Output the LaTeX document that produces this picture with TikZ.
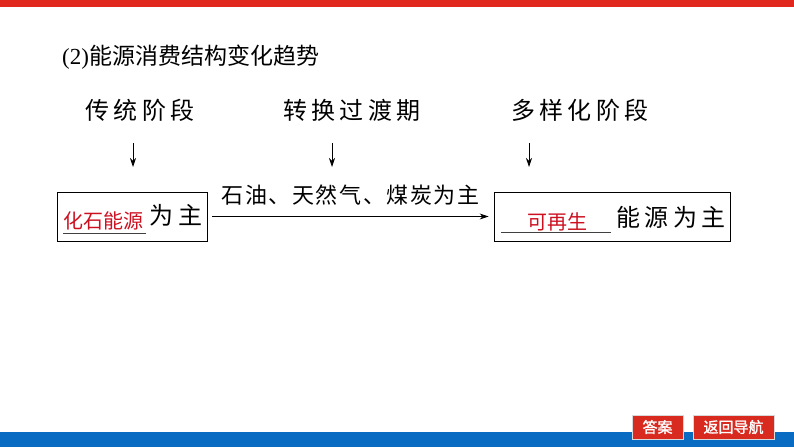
\documentclass[tikz,border=0pt]{standalone}
\usepackage{fontspec}
\setmainfont{Liberation Serif}
\newfontfamily\cjk{Noto Sans CJK SC}
\newfontfamily\cjkwide[LetterSpace=17]{Noto Sans CJK SC}
\newfontfamily\cjklabel[LetterSpace=7]{Noto Sans CJK SC}
\newfontfamily\cjkbtn[FakeBold=1.5]{Noto Sans CJK SC}
\usetikzlibrary{arrows.meta,positioning}
\definecolor{BarRed}{HTML}{E0281E}
\definecolor{BarBlue}{HTML}{0A6BC2}
\definecolor{KeyRed}{HTML}{CC1020}
\definecolor{BtnRed}{HTML}{D92A1F}

\begin{document}
\begin{tikzpicture}[
    x=1pt, y=-1pt,
    stage/.style={
      inner sep=0pt,
      font=\fontsize{24}{28}\selectfont\cjkwide
    },
    box/.style={
      draw=black,
      line width=0.9pt,
      minimum width=#1,
      minimum height=49pt,
      inner sep=0pt
    },
    key/.style={
      inner sep=0pt,
      text=KeyRed,
      font=\fontsize{20}{23}\selectfont\cjk
    },
    btn/.style={
      fill=BtnRed,
      draw=black!15,
      line width=1pt,
      minimum width=#1,
      minimum height=24pt,
      inner sep=0pt,
      text=white,
      font=\fontsize{15}{17}\selectfont\cjkbtn
    },
    down/.style={
      -{Stealth[length=9pt,width=6pt]},
      line width=0.8pt
    }
  ]

  % Frame and bars
  \useasboundingbox (0,0) rectangle (794,447);
  \fill[BarRed]  (0,0)   rectangle (794,7);
  \fill[BarBlue] (0,432) rectangle (794,447);

  % Title
  \node[anchor=west,inner sep=0pt,font=\fontsize{23}{27}\selectfont] (title) at (62,57)
    {(2)\cjk 能源消费结构变化趋势};

  % Stages
  \node[stage] (trad)  at (140,110) {传统阶段};
  \node[stage] (trans) at (352,110) {转换过渡期};
  \node[stage] (multi) at (580,110) {多样化阶段};

  \coordinate (tradS)  at (133,143);  \coordinate (tradE)  at (133,167);
  \coordinate (transS) at (332,143);  \coordinate (transE) at (332,167);
  \coordinate (multiS) at (529,143);  \coordinate (multiE) at (529,167);
  \draw[down] (tradS)  -- (tradE);
  \draw[down] (transS) -- (transE);
  \draw[down] (multiS) -- (multiE);

  % Boxes
  \node[box=150pt] (lbox) at (132,216.5) {};
  \node[box=236pt] (rbox) at (612,216.5) {};

  \draw[line width=0.8pt,black!75] (63,233) -- (146,233);
  \node[key]   (fossil) at (103,221) {化石能源};
  \node[stage] (lmain)  at (176,215) {为主};

  \draw[line width=0.8pt,black!75] (501,232) -- (611,232);
  \node[key]   (renew)  at (557,222) {可再生};
  \node[stage] (rmain)  at (671,217) {能源为主};

  % Transition
  \draw[-{Stealth[length=9pt,width=6pt]},line width=0.8pt,shorten <=5pt,shorten >=5pt]
    (lbox) -- (rbox)
    node[midway,above=11pt,inner sep=0pt,font=\fontsize{22}{26}\selectfont\cjklabel] (mid)
    {石油、天然气、煤炭为主};

  % Buttons
  \node[btn=51pt] (answer) at (657.5,427) {答案};
  \node[btn=81pt] (back)   at (733.5,427) {返回导航};

\end{tikzpicture}
\end{document}
